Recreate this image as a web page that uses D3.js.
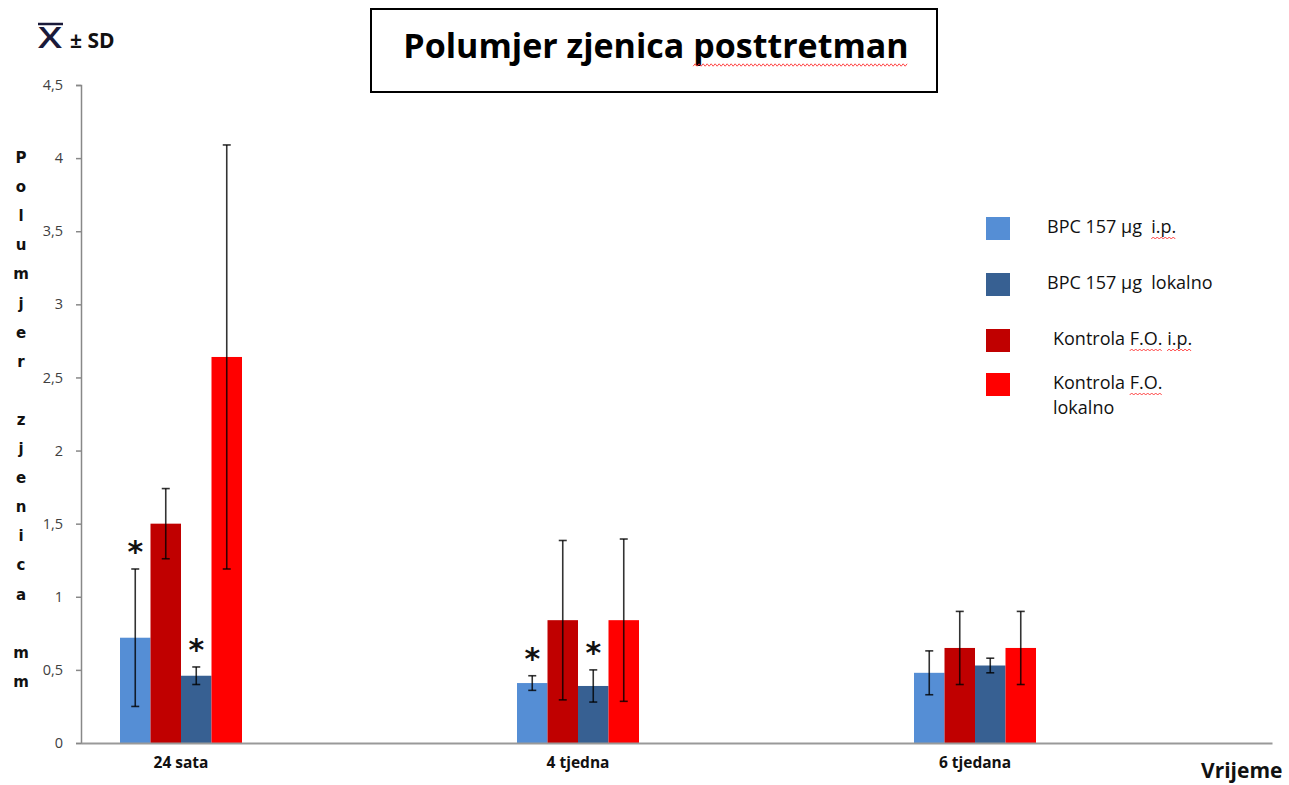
<!DOCTYPE html>
<html>
<head>
<meta charset="utf-8">
<script src="https://cdn.jsdelivr.net/npm/d3@7"></script>
<style>
  body { margin: 0; background: #fff; }
  svg { display: block; font-family: "Open Sans", sans-serif; }
</style>
</head>
<body>
<svg id="chart" width="1289" height="785"></svg>
<script>
"use strict";

// Categories (time points) and series
const categories = ["24 sata", "4 tjedna", "6 tjedana"];
const seriesKeys = ["bpcIp", "bpcLok", "kontrolaIp", "kontrolaLok"];
const seriesOrder = ["bpcIp", "kontrolaIp", "bpcLok", "kontrolaLok"]; // bar order within a group

// Means (mm)
const bpcIp = [0.72, 0.41, 0.48];
const bpcLok = [0.46, 0.39, 0.53];
const kontrolaIp = [1.50, 0.84, 0.65];
const kontrolaLok = [2.64, 0.84, 0.65];

// Standard deviations
const bpcIpSd = [0.47, 0.05, 0.15];
const bpcLokSd = [0.06, 0.11, 0.05];
const kontrolaIpSd = [0.24, 0.545, 0.25];
const kontrolaLokSd = [1.45, 0.555, 0.25];

// Significance markers (*)
const bpcIpSig = [true, true, false];
const bpcLokSig = [true, true, false];

const yTicks = [0, 0.5, 1, 1.5, 2, 2.5, 3, 3.5, 4, 4.5];
const legendLabels = [
  ["BPC 157 µg  i.p."],
  ["BPC 157 µg  lokalno"],
  ["Kontrola F.O. i.p."],
  ["Kontrola F.O.", "lokalno"],
];

const series = {
  bpcIp: { values: bpcIp, sd: bpcIpSd, sig: bpcIpSig, color: "#558ed5" },
  bpcLok: { values: bpcLok, sd: bpcLokSd, sig: bpcLokSig, color: "#376092" },
  kontrolaIp: { values: kontrolaIp, sd: kontrolaIpSd, sig: null, color: "#c00000" },
  kontrolaLok: { values: kontrolaLok, sd: kontrolaLokSd, sig: null, color: "#ff0000" },
};

const svg = d3.select("#chart");

const x0 = d3.scaleBand().domain(categories).range([81, 1272]);
const groupOffset = 39;
const x1 = d3.scaleBand().domain(seriesOrder).range([0, 122]);
const y = d3.scaleLinear().domain([0, 4.5]).range([743, 85]);
const fmt = (d) => String(d).replace(".", ",");
const barMid = (d) => x0(d.cat) + groupOffset + x1(d.key) + x1.bandwidth() / 2;

// Flat list of bars
const bars = [];
categories.forEach((c, i) => {
  seriesOrder.forEach((k) => {
    const s = series[k];
    bars.push({ cat: c, key: k, value: s.values[i], sd: s.sd[i], sig: s.sig ? s.sig[i] : false, color: s.color });
  });
});

// Bars
svg.append("g")
  .selectAll("rect")
  .data(bars)
  .join("rect")
  .attr("x", (d) => x0(d.cat) + groupOffset + x1(d.key))
  .attr("y", (d) => y(d.value))
  .attr("width", x1.bandwidth())
  .attr("height", (d) => y(0) - y(d.value))
  .attr("fill", (d) => d.color);

// Error bars
const err = svg.append("g")
  .attr("stroke", "#000")
  .attr("stroke-opacity", 0.8)
  .attr("stroke-width", 1.6)
  .selectAll("g")
  .data(bars)
  .join("g")
  .attr("transform", (d) => `translate(${barMid(d)},0)`);
err.append("line")
  .attr("y1", (d) => y(d.value + d.sd))
  .attr("y2", (d) => y(Math.max(0, d.value - d.sd)));
err.append("line")
  .attr("x1", -4).attr("x2", 4)
  .attr("y1", (d) => y(d.value + d.sd))
  .attr("y2", (d) => y(d.value + d.sd));
err.append("line")
  .attr("x1", -4).attr("x2", 4)
  .attr("y1", (d) => y(Math.max(0, d.value - d.sd)))
  .attr("y2", (d) => y(Math.max(0, d.value - d.sd)));

// Significance stars
svg.append("g")
  .selectAll("text")
  .data(bars.filter((d) => d.sig))
  .join("text")
  .attr("x", barMid)
  .attr("y", (d) => y(d.value + d.sd) - 7)
  .attr("text-anchor", "middle")
  .attr("font-family", "'DejaVu Sans', sans-serif")
  .attr("font-size", 30)
  .attr("font-weight", "bold")
  .attr("fill", "#111")
  .text("*");

// Y axis
const yAxis = svg.append("g")
  .attr("transform", "translate(81,0)")
  .call(d3.axisLeft(y).tickValues(yTicks).tickFormat(fmt).tickSizeOuter(0).tickSize(5).tickPadding(13));
yAxis.select(".domain").attr("stroke", "#888").attr("stroke-width", 1.5);
yAxis.selectAll(".tick line").attr("stroke", "#888").attr("stroke-width", 1.5);
yAxis.selectAll(".tick text")
  .attr("font-family", "'Open Sans', sans-serif")
  .attr("font-size", 14.5)
  .attr("fill", "#404040");

// X axis
const xAxis = svg.append("g")
  .attr("transform", `translate(0,${y(0)})`)
  .call(d3.axisBottom(x0).tickSize(0).tickSizeOuter(0).tickPadding(14));
xAxis.select(".domain").attr("stroke", "#999").attr("stroke-width", 2);
xAxis.selectAll(".tick")
  .attr("transform", (d) => `translate(${x0(d) + groupOffset + x1.bandwidth() * 2},0)`);
xAxis.selectAll(".tick text")
  .attr("font-family", "'Open Sans', sans-serif")
  .attr("font-size", 15.5)
  .attr("font-weight", "bold")
  .attr("fill", "#111");

// Axis titles
svg.append("text")
  .attr("x", 1201).attr("y", 778)
  .attr("font-size", 21).attr("font-weight", "bold").attr("fill", "#111")
  .text("Vrijeme");

const yTitle = "Polumjer zjenica mm".split("");
svg.append("g")
  .selectAll("text")
  .data(yTitle)
  .join("text")
  .attr("x", 21)
  .attr("y", (d, i) => 163 + i * 29.1)
  .attr("text-anchor", "middle")
  .attr("font-family", "'DejaVu Sans', sans-serif")
  .attr("font-size", 15)
  .attr("font-weight", "bold")
  .attr("fill", "#111")
  .text((d) => (d === " " ? "" : d));

// X-bar ± SD label
svg.append("text")
  .attr("x", 38).attr("y", 48)
  .attr("font-size", 28).attr("font-weight", 600).attr("fill", "#1a1a3a")
  .attr("textLength", 24).attr("lengthAdjust", "spacingAndGlyphs")
  .text("X");
svg.append("line")
  .attr("x1", 38).attr("x2", 63).attr("y1", 24).attr("y2", 24)
  .attr("stroke", "#1a1a3a").attr("stroke-width", 2.5);
svg.append("text")
  .attr("x", 70).attr("y", 48)
  .attr("font-size", 21).attr("font-weight", "bold").attr("fill", "#111")
  .text("± SD");

// Title box
svg.append("rect")
  .attr("x", 371).attr("y", 9).attr("width", 566).attr("height", 83)
  .attr("fill", "none").attr("stroke", "#000").attr("stroke-width", 2);
const title = svg.append("text")
  .attr("x", 656).attr("y", 58)
  .attr("text-anchor", "middle")
  .attr("font-size", 34).attr("font-weight", "bold").attr("fill", "#000")
  .text("Polumjer zjenica posttretman");

// Spell-check style wavy underline under a word of a text/tspan node
function squiggle(node, word, dy, amp) {
  const start = node.textContent.indexOf(word);
  if (start < 0) return;
  const p = node.getStartPositionOfChar(start);
  const xb = node.getEndPositionOfChar(start + word.length - 1).x;
  const yb = p.y + dy;
  const pts = [];
  for (let xx = p.x, k = 0; xx <= xb; xx += 2, k++) pts.push([xx, yb + (k % 2 ? -amp : amp)]);
  svg.append("path")
    .attr("d", d3.line()(pts))
    .attr("fill", "none").attr("stroke", "#ff3030").attr("stroke-width", 0.9);
}
squiggle(title.node(), "posttretman", 7, 1.2);

// Legend
const legendY = [228, 284, 340, 384];
const legendTextX = [1047, 1047, 1053, 1053];
const legend = svg.append("g");
seriesKeys.forEach((k, i) => {
  legend.append("rect")
    .attr("x", 986).attr("y", legendY[i] - 11)
    .attr("width", 24).attr("height", 23)
    .attr("fill", series[k].color);
  const t = legend.append("text")
    .attr("x", legendTextX[i]).attr("y", legendY[i] + 5)
    .attr("font-size", 18).attr("fill", "#111")
    .style("white-space", "pre");
  legendLabels[i].forEach((line, j) => {
    t.append("tspan").attr("x", legendTextX[i]).attr("dy", j === 0 ? 0 : 25).text(line);
  });
});
const firstLines = legend.selectAll("text").nodes().map((n) => n.querySelector("tspan"));
squiggle(firstLines[0], "i.p.", 5, 1);
squiggle(firstLines[2], "F.O.", 5, 1);
squiggle(firstLines[2], "i.p.", 5, 1);
squiggle(firstLines[3], "F.O.", 5, 1);
</script>
</body>
</html>
